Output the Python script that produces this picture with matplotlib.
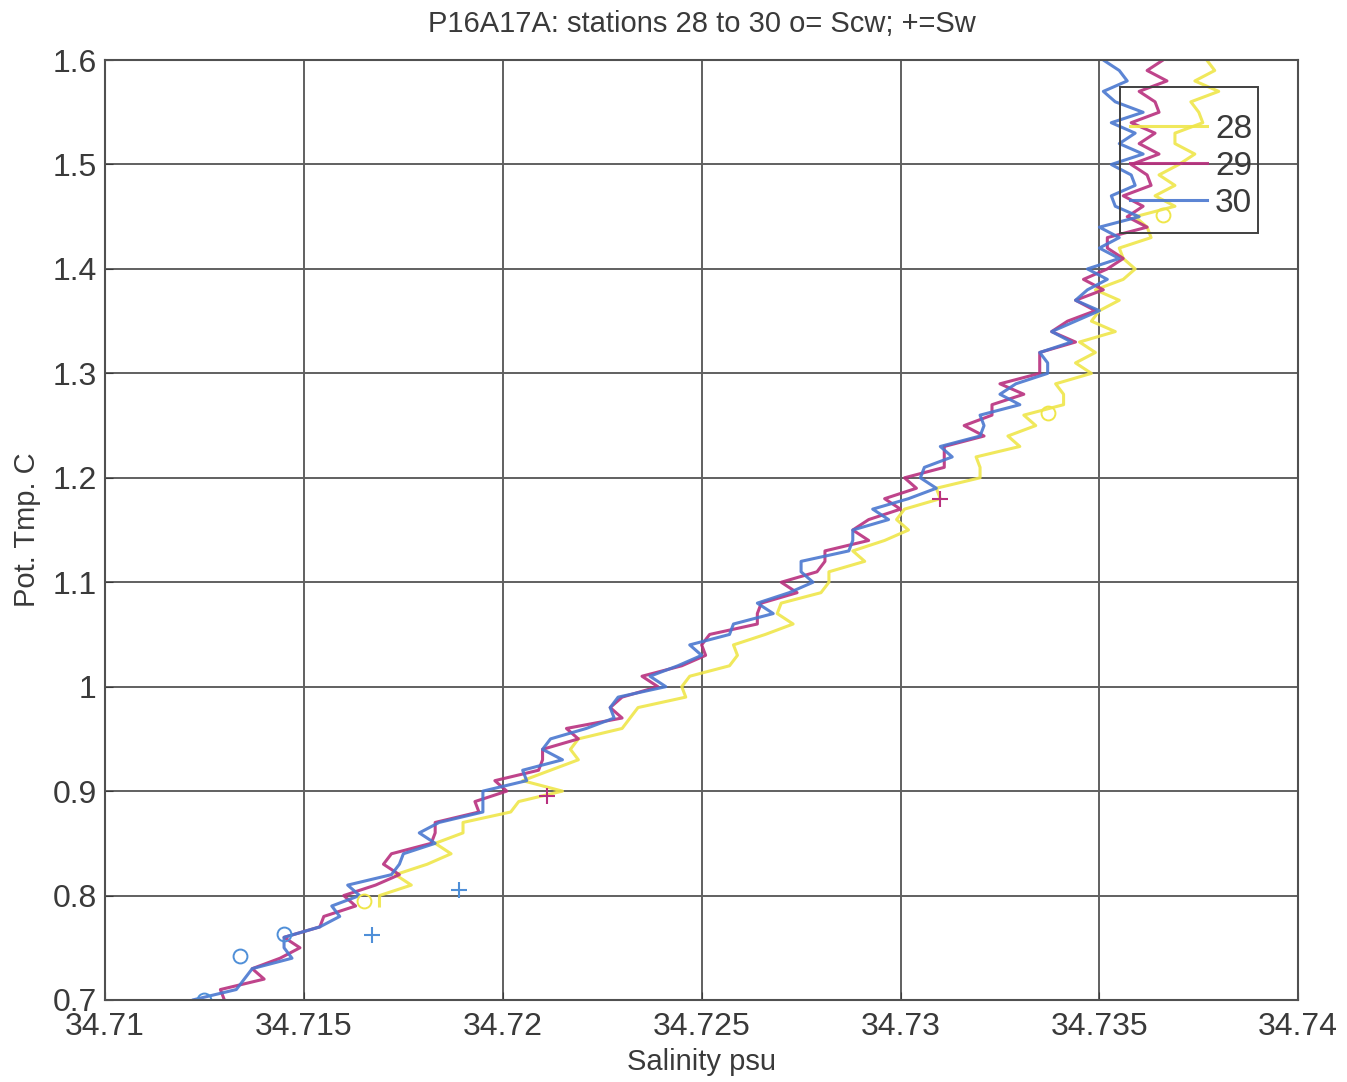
import matplotlib.pyplot as plt
import numpy as np
from matplotlib.patches import Rectangle

plt.rcParams['font.family'] = ['Liberation Sans', 'DejaVu Sans']

# potential temperature levels (C)
theta = [0.69, 0.70, 0.71, 0.72, 0.73, 0.74, 0.75, 0.76, 0.77, 0.78,
	0.79, 0.80, 0.81, 0.82, 0.83, 0.84, 0.85, 0.86, 0.87, 0.88,
	0.89, 0.90, 0.91, 0.92, 0.93, 0.94, 0.95, 0.96, 0.97, 0.98,
	0.99, 1.00, 1.01, 1.02, 1.03, 1.04, 1.05, 1.06, 1.07, 1.08,
	1.09, 1.10, 1.11, 1.12, 1.13, 1.14, 1.15, 1.16, 1.17, 1.18,
	1.19, 1.20, 1.21, 1.22, 1.23, 1.24, 1.25, 1.26, 1.27, 1.28,
	1.29, 1.30, 1.31, 1.32, 1.33, 1.34, 1.35, 1.36, 1.37, 1.38,
	1.39, 1.40, 1.41, 1.42, 1.43, 1.44, 1.45, 1.46, 1.47, 1.48,
	1.49, 1.50, 1.51, 1.52, 1.53, 1.54, 1.55, 1.56, 1.57, 1.58,
	1.59, 1.60, 1.61, 1.62]

# station 30 (blue)
s30 = [34.7123, 34.7122, 34.7133, 34.7135, 34.7137, 34.7147, 34.7145, 34.7145, 34.7154, 34.7159,
	34.7157, 34.7164, 34.7161, 34.7172, 34.7174, 34.7175, 34.7183, 34.7179, 34.7184, 34.7195,
	34.7195, 34.7195, 34.7206, 34.7205, 34.7215, 34.7210, 34.7212, 34.7221, 34.7228, 34.7227,
	34.7229, 34.7241, 34.7237, 34.7244, 34.7250, 34.7247, 34.7257, 34.7258, 34.7268, 34.7264,
	34.7272, 34.7278, 34.7275, 34.7275, 34.7287, 34.7288, 34.7288, 34.7297, 34.7293, 34.7302,
	34.7309, 34.7305, 34.7306, 34.7313, 34.7310, 34.7320, 34.7321, 34.7320, 34.7330, 34.7325,
	34.7329, 34.7337, 34.7337, 34.7335, 34.7343, 34.7338, 34.7344, 34.7350, 34.7344, 34.7347,
	34.7352, 34.7347, 34.7355, 34.7350, 34.7355, 34.7350, 34.7360, 34.7354, 34.7353, 34.7359,
	34.7358, 34.7353, 34.7361, 34.7355, 34.7359, 34.7353, 34.7361, 34.7354, 34.7351, 34.7357,
	34.7355, 34.7351, 34.7356, 34.7349]

# station 29 (magenta)
s29 = [34.7121, 34.7130, 34.7129, 34.7140, 34.7137, 34.7144, 34.7149, 34.7145, 34.7154, 34.7155,
	34.7163, 34.7160, 34.7168, 34.7174, 34.7170, 34.7172, 34.7182, 34.7183, 34.7183, 34.7194,
	34.7193, 34.7201, 34.7198, 34.7209, 34.7210, 34.7210, 34.7219, 34.7216, 34.7230, 34.7227,
	34.7230, 34.7239, 34.7235, 34.7245, 34.7251, 34.7250, 34.7252, 34.7264, 34.7264, 34.7265,
	34.7274, 34.7270, 34.7279, 34.7281, 34.7281, 34.7292, 34.7288, 34.7292, 34.7300, 34.7296,
	34.7304, 34.7301, 34.7311, 34.7311, 34.7311, 34.7321, 34.7316, 34.7323, 34.7323, 34.7331,
	34.7325, 34.7335, 34.7335, 34.7335, 34.7344, 34.7338, 34.7342, 34.7349, 34.7344, 34.7351,
	34.7346, 34.7352, 34.7356, 34.7352, 34.7352, 34.7362, 34.7357, 34.7361, 34.7356, 34.7363,
	34.7362, 34.7358, 34.7365, 34.7360, 34.7364, 34.7358, 34.7365, 34.7364, 34.7360, 34.7367,
	34.7362, 34.7366, 34.7361, 34.7369]

# station 28 (yellow), starts at 0.79 C
theta28 = theta[10:]
s28 = [34.7169, 34.7169, 34.7177, 34.7173, 34.7181, 34.7187, 34.7183, 34.7190, 34.7190, 34.7202,
	34.7204, 34.7215, 34.7205, 34.7212, 34.7219, 34.7217, 34.7219, 34.7230, 34.7232, 34.7234,
	34.7246, 34.7245, 34.7247, 34.7257, 34.7259, 34.7258, 34.7266, 34.7273, 34.7269, 34.7270,
	34.7280, 34.7282, 34.7282, 34.7291, 34.7288, 34.7296, 34.7302, 34.7299, 34.7301, 34.7310,
	34.7309, 34.7320, 34.7320, 34.7319, 34.7330, 34.7327, 34.7334, 34.7331, 34.7341, 34.7341,
	34.7339, 34.7348, 34.7344, 34.7349, 34.7345, 34.7354, 34.7348, 34.7350, 34.7355, 34.7349,
	34.7356, 34.7359, 34.7356, 34.7355, 34.7363, 34.7362, 34.7359, 34.7369, 34.7364, 34.7369,
	34.7365, 34.7370, 34.7374, 34.7369, 34.7369, 34.7376, 34.7375, 34.7373, 34.7380, 34.7374,
	34.7379, 34.7377, 34.7382, 34.7378]

# Scw (o) and Sw (+) samples
scw_s = [34.7125, 34.7134, 34.7145, 34.7165, 34.7337, 34.7366]
scw_t = [0.700, 0.742, 0.763, 0.795, 1.262, 1.452]
scw_c = ['#4f8fd8', '#4f8fd8', '#4f8fd8', '#efe64a', '#efe64a', '#efe64a']
sw_s = [34.7167, 34.7189, 34.7211, 34.7310]
sw_t = [0.762, 0.805, 0.895, 1.180]
sw_c = ['#4f8fd8', '#4f8fd8', '#b8307e', '#b8307e']

c28 = '#efe64a'
c29 = '#b8307e'
c30 = '#4a78d0'
txt = '#3a3a3a'

fig = plt.figure(figsize=(13.47, 10.82), dpi=100)
ax = fig.add_axes([0.078, 0.0758, 0.8858, 0.8687])

l28, = ax.plot(s28, theta28, color=c28, lw=2.2, alpha=0.9)
l29, = ax.plot(s29, theta, color=c29, lw=2.2, alpha=0.9)
l30, = ax.plot(s30, theta, color=c30, lw=2.2, alpha=0.9)
for s, t, c in zip(scw_s, scw_t, scw_c):
	ax.plot(s, t, 'o', mfc='none', mec=c, ms=10, mew=1.4)
for s, t, c in zip(sw_s, sw_t, sw_c):
	ax.plot(s, t, '+', color=c, ms=12, mew=1.5)

ax.set_xlim(34.71, 34.74)
ax.set_ylim(0.7, 1.6)
ax.set_xticks([34.71, 34.715, 34.72, 34.725, 34.73, 34.735, 34.74])
ax.set_xticklabels(['34.71', '34.715', '34.72', '34.725', '34.73', '34.735', '34.74'])
ax.set_yticks([0.7, 0.8, 0.9, 1.0, 1.1, 1.2, 1.3, 1.4, 1.5, 1.6])
ax.set_yticklabels(['0.7', '0.8', '0.9', '1', '1.1', '1.2', '1.3', '1.4', '1.5', '1.6'])
ax.grid(True, color='#606060', lw=1.4)
ax.set_axisbelow(True)
ax.tick_params(direction='in', length=6, labelsize=23, colors=txt)
ax.tick_params(axis='x', pad=9)
ax.tick_params(axis='y', pad=6)
for sp in ax.spines.values():
	sp.set_color('#505050')
	sp.set_linewidth(1.5)

ax.set_title("P16A17A: stations 28 to 30 o= Scw; +=Sw", fontsize=21, color=txt, pad=20)
ax.set_xlabel("Salinity psu", fontsize=21, color=txt, labelpad=4)
ax.set_ylabel("Pot. Tmp. C", fontsize=21, color=txt, labelpad=8)

# legend: entries without frame, box drawn separately
leg = ax.legend([l28, l29, l30], ['28', '29', '30'], loc='upper right',
	bbox_to_anchor=(0.9614, 0.943), fontsize=24, handlelength=2.3,
	handletextpad=0.25, labelspacing=0.18, borderpad=0, frameon=False,
	borderaxespad=0)
for t in leg.get_texts():
	t.set_color(txt)
ax.add_patch(Rectangle((0.8508, 0.816), 0.1157, 0.155, transform=ax.transAxes,
	fill=False, edgecolor='#404040', lw=1.4, zorder=5))

plt.savefig("out.png")
